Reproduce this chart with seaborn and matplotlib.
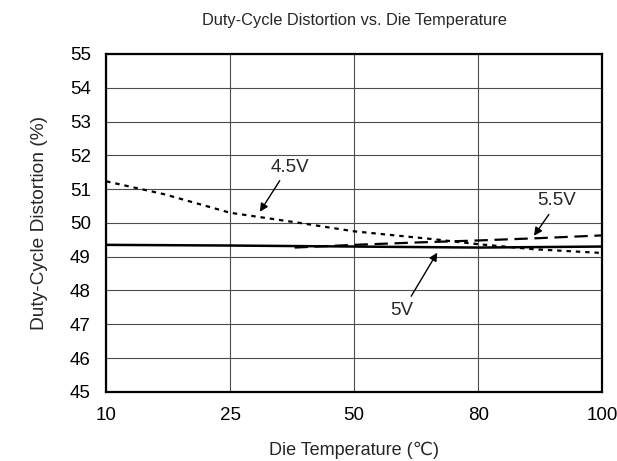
import matplotlib
matplotlib.use("Agg")
import matplotlib.pyplot as plt
import numpy as np
import pandas as pd
import seaborn as sns

# axis ticks are equally spaced although the temperatures are not
TICK_TEMPS = [10, 25, 50, 80, 100]
TICK_LABELS = ["10", "25", "50", "80", "100"]

temp_45 = [10, 17, 25, 39, 50, 69, 80, 89, 100]
duty_45 = [51.23, 50.85, 50.3, 50.0, 49.75, 49.52, 49.37, 49.22, 49.11]

temp_5 = [10, 25, 50, 80, 100]
duty_5 = [49.35, 49.33, 49.3, 49.27, 49.3]

temp_55 = [38, 50, 65, 80, 90, 100]
duty_55 = [49.27, 49.35, 49.42, 49.48, 49.55, 49.63]


def to_pos(t):
    return np.interp(t, TICK_TEMPS, np.arange(len(TICK_TEMPS)))


sns.set_theme(style="white")
plt.rcParams["font.family"] = ["Liberation Sans", "DejaVu Sans"]

fig, ax = plt.subplots(figsize=(6.17, 4.61), dpi=100)
fig.subplots_adjust(left=0.172, right=0.976, top=0.883, bottom=0.150)

series = [
    ("4.5V", temp_45, duty_45, (0, (2, 2.2)), 1.6),
    ("5V", temp_5, duty_5, "-", 1.8),
    ("5.5V", temp_55, duty_55, (0, (6, 3)), 1.6),
]
for name, t, d, ls, lw in series:
    df = pd.DataFrame({"pos": to_pos(t), "duty": d})
    sns.lineplot(data=df, x="pos", y="duty", ax=ax, color="black",
                 linestyle=ls, linewidth=lw)

ax.set_xlim(0, len(TICK_TEMPS) - 1)
ax.set_ylim(45, 55)
ax.set_xticks(np.arange(len(TICK_TEMPS)))
ax.set_xticklabels(TICK_LABELS)
ax.set_yticks(np.arange(45, 56, 1))
ax.tick_params(axis="both", labelsize=13.5, length=0, pad=11, colors="black")
ax.grid(True, color="0.3", linewidth=0.8)
for s in ax.spines.values():
    s.set_color("black")
    s.set_linewidth(1.6)

ax.set_title("Duty-Cycle Distortion vs. Die Temperature", fontsize=11.8,
             y=1.10, va="center", pad=0)
ax.set_xlabel("Die Temperature (\u2103)", fontsize=13)
ax.set_ylabel("Duty-Cycle Distortion (%)", fontsize=13.8)
ax.xaxis.set_label_coords(0.5, -0.172)
ax.xaxis.label.set_va("center")
ax.yaxis.set_label_coords(-0.135, 0.5)
ax.yaxis.label.set_va("center")

arrow = dict(arrowstyle="-|>", color="black", lw=1.0, mutation_scale=12,
             shrinkA=0, shrinkB=0)
ax.annotate("", xy=(1.24, 50.33), xytext=(1.40, 51.25), arrowprops=arrow)
ax.text(1.48, 51.65, "4.5V", fontsize=13.5, ha="center", va="center")
ax.annotate("", xy=(3.45, 49.62), xytext=(3.57, 50.25), arrowprops=arrow)
ax.text(3.63, 50.65, "5.5V", fontsize=13.5, ha="center", va="center")
ax.annotate("", xy=(2.67, 49.12), xytext=(2.46, 47.83), arrowprops=arrow)
ax.text(2.38, 47.42, "5V", fontsize=13.5, ha="center", va="center")

fig.savefig("out.png", dpi=100)
